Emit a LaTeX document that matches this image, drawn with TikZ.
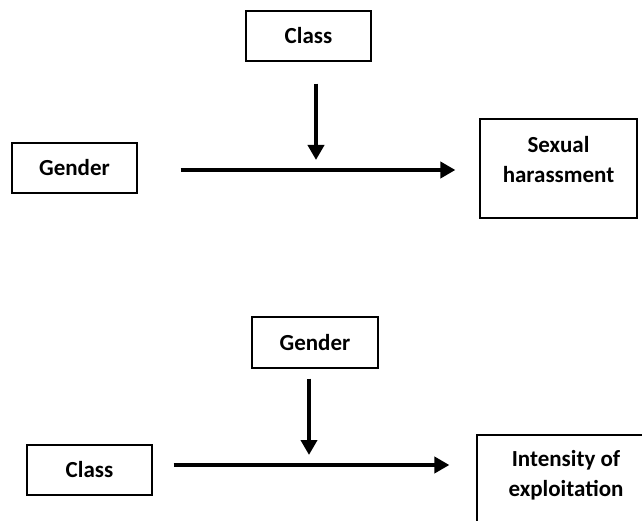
\documentclass[tikz,border=0pt]{standalone}
\usepackage{fontspec}
\setmainfont{Carlito}
\usepackage{tikz}
\usetikzlibrary{arrows.meta}

\begin{document}
\begin{tikzpicture}[x=1pt,y=-1pt,
	box/.style={draw, line width=1.2pt, inner sep=0pt, font=\fontsize{23}{30}\selectfont\bfseries},
	arr/.style={line width=4pt, -{Triangle[width=16pt,length=15pt]}}]
	\useasboundingbox (0,0) rectangle (642,521);
	
	% gender -> sexual harassment, class as moderator
	\node[box, minimum width=125pt, minimum height=50pt] (cls1) at (308.5,36) {Class};
	\node[box, minimum width=125pt, minimum height=50pt] (gen1) at (74.5,168) {Gender};
	\node[box, minimum width=157pt, minimum height=99pt] (sh) at (558.5,168.5)
		{\raisebox{6.5pt}[\height][\depth]{\begin{tabular}{@{}c@{}}Sexual\\harassment\end{tabular}}};
	\coordinate (j1) at (316,170);
	\draw[arr, shorten <=43pt, shorten >=24pt] (gen1.east |- j1) -- (sh.west |- j1);
	\draw[arr, shorten <=22pt, shorten >=10pt] (cls1.south -| j1) -- (j1);
	
	% class -> intensity of exploitation, gender as moderator
	\node[box, minimum width=126pt, minimum height=51pt] (gen2) at (315,342.5) {Gender};
	\node[box, minimum width=125pt, minimum height=50pt] (cls2) at (89.5,470) {Class};
	\node[box, minimum width=178pt, minimum height=99pt] (ie) at (566,484.5)
		{\raisebox{9pt}[\height][\depth]{\begin{tabular}{@{}c@{}}Intensity of\\exploitation\end{tabular}}};
	\coordinate (j2) at (309,465);
	\draw[arr, shorten <=21pt, shorten >=27pt] (cls2.east |- j2) -- (ie.west |- j2);
	\draw[arr, shorten <=10pt, shorten >=10pt] (gen2.south -| j2) -- (j2);
	
\end{tikzpicture}
\end{document}
